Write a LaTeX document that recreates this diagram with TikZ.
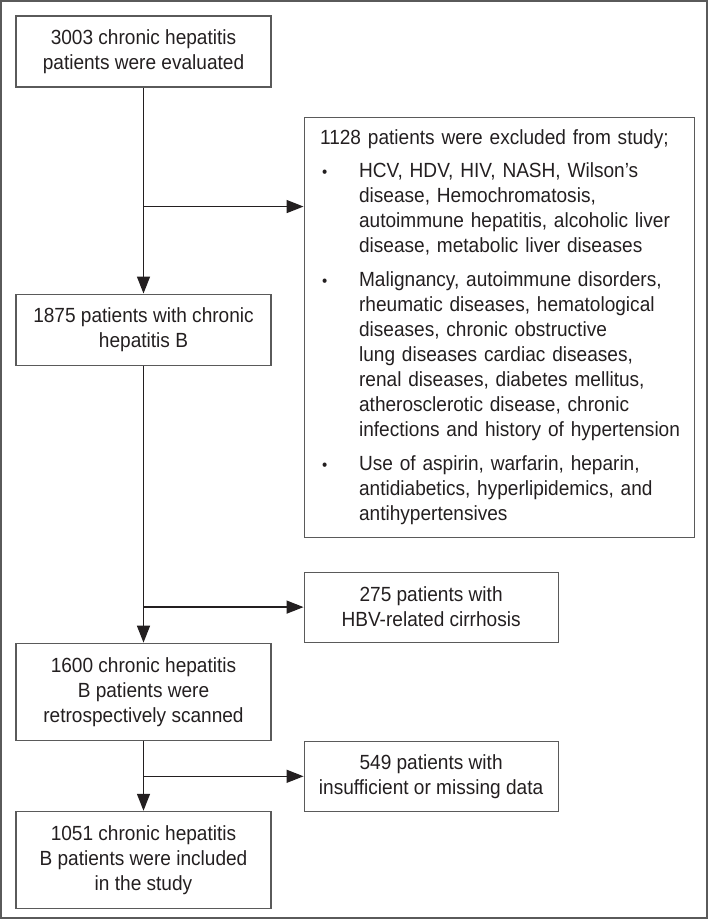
\documentclass[tikz,border=0pt]{standalone}
\usepackage{fontspec}
\setmainfont{Liberation Sans}[FakeStretch=0.93]
\usetikzlibrary{arrows.meta,positioning}
\definecolor{ink}{HTML}{231F20}
\definecolor{rim}{HTML}{5A5A5A}
\newcommand{\exbullet}{\hspace*{2pt}{\fontsize{16}{16}\selectfont\textbullet}}

\begin{document}
\begin{tikzpicture}[font=\fontsize{20.5}{25}\selectfont,text=ink,box/.style={draw=rim,line width=1.1pt,align=center,minimum width=255pt,minimum height=71pt,inner sep=0pt},tall/.style={box,minimum height=97pt},side/.style={box,minimum width=254pt,minimum height=70pt},arr/.style={-{Triangle[length=17pt,width=13pt]},line width=1.4pt,draw=ink}]
\useasboundingbox (0,0) rectangle (709pt,-920pt);
\draw[rim,line width=1.6pt] (1pt,-1pt) rectangle (707pt,-918pt);
\node[box] (eval) at (143.5pt,-51.5pt) {3003 chronic hepatitis\\patients were evaluated};
\node[box,below=206pt of eval] (chb) {1875 patients with chronic\\hepatitis B};
\node[tall,below=277pt of chb] (scan) {1600 chronic hepatitis\\B patients were\\retrospectively scanned};
\node[tall,below=70pt of scan] (incl) {1051 chronic hepatitis\\B patients were included\\in the study};
\node[box,align=left,text width=358pt,minimum width=390pt,minimum height=420pt,inner xsep=16pt,below right=65.5pt and 32pt of eval.east] (excl) {\begin{tabular}{@{}p{39pt}@{}l@{}}
\multicolumn{2}{@{}l@{}}{1128 patients were excluded from study;}\\[8pt]
\exbullet & HCV, HDV, HIV, NASH, Wilson's\\
& disease, Hemochromatosis,\\
& autoimmune hepatitis, alcoholic liver\\
& disease, metabolic liver diseases\\[9pt]
\exbullet & Malignancy, autoimmune disorders,\\
& rheumatic diseases, hematological\\
& diseases, chronic obstructive\\
& lung diseases cardiac diseases,\\
& renal diseases, diabetes mellitus,\\
& atherosclerotic disease, chronic\\
& infections and history of hypertension\\[9pt]
\exbullet & Use of aspirin, warfarin, heparin,\\
& antidiabetics, hyperlipidemics, and\\
& antihypertensives
\end{tabular}};
\node[side,above right=0pt and 32pt of scan.north east] (cirr) {275 patients with\\HBV-related cirrhosis};
\node[side,below right=0pt and 32pt of scan.south east] (miss) {549 patients with\\insufficient or missing data};
\path (eval.south) ++(0,-119pt) coordinate (j1);
\coordinate (j2) at (chb.south |- cirr.west);
\coordinate (j3) at (scan.south |- miss.west);
\draw[arr] (eval) -- (chb);
\draw[arr] (chb) -- (scan);
\draw[arr] (scan) -- (incl);
\draw[arr] (j1) -- (j1 -| excl.west);
\draw[arr] (j2) -- (cirr.west);
\draw[arr] (j3) -- (miss.west);
\end{tikzpicture}
\end{document}
